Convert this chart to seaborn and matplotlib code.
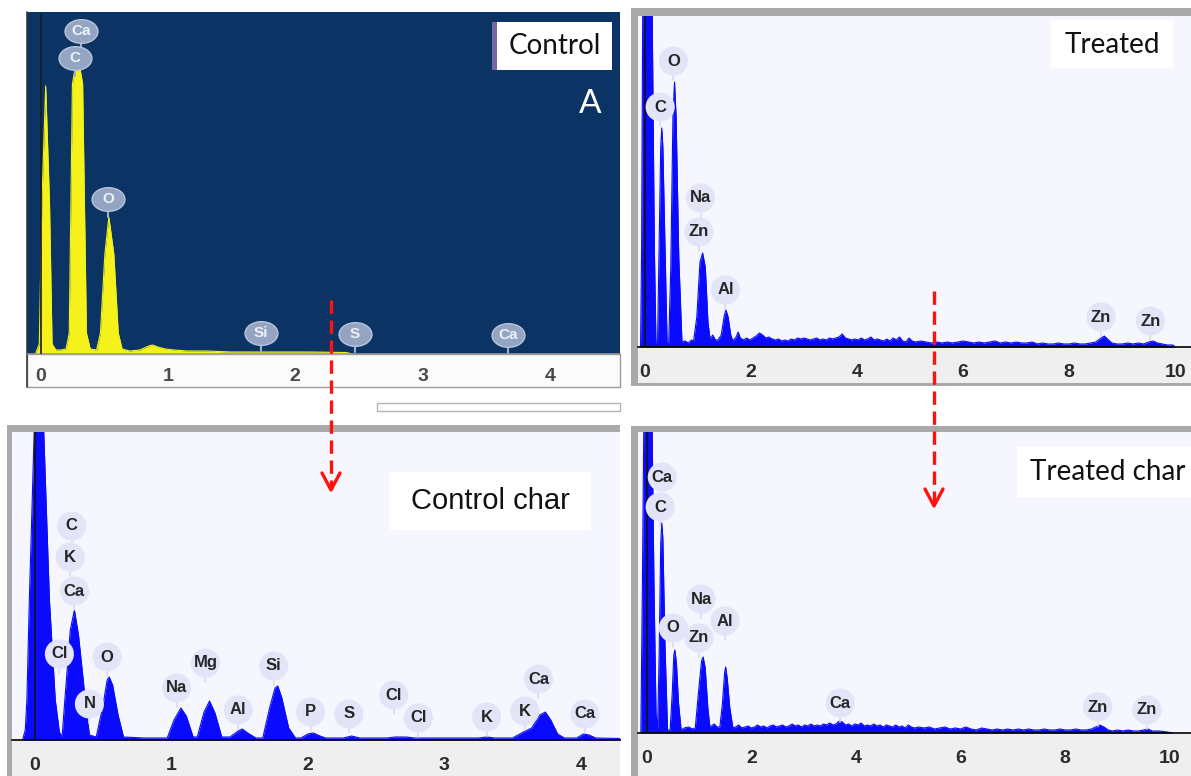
import matplotlib
matplotlib.use("Agg")
import matplotlib.pyplot as plt
import matplotlib.ticker as mticker
from matplotlib.patches import Rectangle
from matplotlib.path import Path
import seaborn as sns

sns.set_theme(style="white")
plt.rcParams['font.family'] = ['Liberation Sans', 'DejaVu Sans']

W, H = 1191, 776

# ------------------------------------------------------------------ data
# Panel A : Control (energy keV, counts in relative units)
energy_A = [-0.04, -0.01, 0.01, 0.04, 0.07, 0.09, 0.12, 0.16, 0.20, 0.225, 0.25, 0.29,
            0.33, 0.36, 0.39, 0.44, 0.47, 0.505, 0.536, 0.575, 0.61, 0.64, 0.70, 0.78,
            0.85, 0.88, 0.92, 0.98, 1.05, 1.15, 1.30, 1.50, 1.80, 2.10, 2.40, 2.45]
counts_A = [0, 10, 150, 268, 150, 10, 4, 4, 5, 21, 270, 300,
            270, 21, 5, 4, 21, 100, 137, 100, 21, 5, 3, 4,
            8, 9, 7, 5, 4, 3, 3, 2, 2, 2, 1.5, 0]

# Panel B : Treated
energy_B = [-0.08, -0.06, -0.04, 0.00, 0.08, 0.14, 0.18, 0.21, 0.24, 0.27, 0.30, 0.32, 0.34,
            0.38, 0.42, 0.45, 0.49, 0.53, 0.56, 0.59, 0.64, 0.70, 0.76, 0.82, 0.88, 0.92,
            0.98, 1.04, 1.09, 1.14, 1.19, 1.23, 1.28, 1.33, 1.38, 1.44, 1.50, 1.53, 1.57,
            1.62, 1.66, 1.72, 1.76, 1.80, 1.86, 1.92, 1.98, 2.04, 2.10, 2.16, 2.22, 2.28,
            2.34, 2.40, 2.46, 2.52, 2.58, 2.64, 2.70, 2.76, 2.82, 2.88, 2.94, 3.00, 3.06,
            3.12, 3.18, 3.24, 3.30, 3.36, 3.42, 3.48, 3.54, 3.60, 3.66, 3.72, 3.78, 3.84,
            3.90, 3.96, 4.02, 4.08, 4.14, 4.20, 4.26, 4.32, 4.38, 4.44, 4.50, 4.56, 4.62,
            4.68, 4.74, 4.80, 4.86, 4.92, 4.98, 5.04, 5.10, 5.20, 5.30, 5.40, 5.50, 5.60,
            5.70, 5.80, 5.90, 6.00, 6.10, 6.20, 6.30, 6.40, 6.50, 6.60, 6.70, 6.80, 6.90,
            7.00, 7.10, 7.20, 7.30, 7.40, 7.50, 7.60, 7.70, 7.80, 7.90, 8.00, 8.10, 8.20,
            8.30, 8.40, 8.50, 8.60, 8.66, 8.72, 8.80, 8.90, 9.00, 9.10, 9.20, 9.30, 9.40,
            9.50, 9.58, 9.66, 9.75, 9.85, 9.95, 10.0]
counts_B = [0, 100, 330, 420, 420, 330, 100, 5, 5, 100, 200, 219, 200,
            100, 5, 3, 80, 230, 265, 230, 90, 5, 6, 4, 7, 6,
            30, 85, 94, 80, 25, 8, 12, 7, 7, 12, 32, 37, 30,
            12, 6, 10, 15, 9, 7, 9, 7, 9, 11, 14, 12, 9,
            10, 8, 7, 8, 6, 7, 6, 8, 7, 9, 8, 9, 8,
            7, 8, 9, 7, 8, 7, 9, 8, 9, 10, 13, 9, 8,
            7, 8, 7, 9, 7, 8, 10, 7, 8, 7, 6, 8, 6,
            9, 7, 10, 6, 5, 9, 6, 5, 6, 5, 4, 5, 4,
            5, 4, 5, 6, 5, 4, 5, 4, 5, 6, 4, 5, 4,
            5, 4, 4, 5, 3, 4, 3, 3, 4, 3, 3, 4, 3,
            3, 4, 5, 9, 11, 8, 4, 3, 3, 4, 3, 4, 3,
            5, 6, 4, 3, 2, 2, 0]

# Panel C : Control char
energy_C = [-0.09, -0.07, -0.058, -0.04, 0.00, 0.06, 0.107, 0.15, 0.18, 0.20, 0.22, 0.26,
            0.29, 0.32, 0.37, 0.40, 0.45, 0.50, 0.53, 0.545, 0.57, 0.61, 0.65, 0.80, 0.97,
            1.02, 1.07, 1.11, 1.16, 1.19, 1.24, 1.28, 1.32, 1.37, 1.43, 1.49, 1.52, 1.56,
            1.62, 1.67, 1.72, 1.76, 1.78, 1.81, 1.86, 1.91, 1.95, 2.00, 2.04, 2.09, 2.13,
            2.26, 2.32, 2.38, 2.58, 2.64, 2.72, 2.78, 3.25, 3.31, 3.37, 3.50, 3.58, 3.64,
            3.70, 3.74, 3.78, 3.83, 3.88, 3.97, 4.02, 4.06, 4.11, 4.29]
counts_C = [0, 10, 40, 140, 330, 330, 140, 40, 8, 3, 40, 110,
            130, 105, 40, 5, 3, 35, 60, 63, 55, 25, 3, 2, 2,
            20, 32, 24, 3, 3, 28, 39, 27, 3, 3, 9, 11, 7,
            2, 2, 32, 52, 54, 42, 12, 2, 2, 6, 7, 4, 2,
            2, 4, 2, 2, 3, 3, 2, 2, 3, 2, 2, 8, 12,
            25, 28, 20, 6, 2, 2, 6, 5, 2, 1.5]

# Panel D : Treated char
energy_D = [-0.11, -0.08, -0.05, 0.10, 0.14, 0.18, 0.21, 0.24, 0.27, 0.29, 0.31, 0.35,
            0.40, 0.45, 0.49, 0.52, 0.54, 0.57, 0.61, 0.66, 0.72, 0.80, 0.88, 0.93, 0.99,
            1.05, 1.08, 1.12, 1.17, 1.21, 1.29, 1.35, 1.40, 1.45, 1.49, 1.51, 1.54, 1.59,
            1.65, 1.70, 1.76, 1.82, 1.88, 1.94, 2.00, 2.06, 2.12, 2.18, 2.24, 2.30, 2.36,
            2.42, 2.48, 2.54, 2.60, 2.66, 2.72, 2.78, 2.84, 2.90, 2.96, 3.02, 3.08, 3.14,
            3.20, 3.26, 3.32, 3.38, 3.44, 3.50, 3.56, 3.62, 3.68, 3.74, 3.80, 3.86, 3.92,
            3.98, 4.04, 4.10, 4.16, 4.22, 4.28, 4.34, 4.40, 4.46, 4.52, 4.58, 4.64, 4.70,
            4.76, 4.82, 4.88, 4.94, 5.00, 5.06, 5.12, 5.20, 5.30, 5.40, 5.50, 5.60, 5.70,
            5.80, 5.90, 6.00, 6.10, 6.20, 6.30, 6.40, 6.50, 6.60, 6.70, 6.80, 6.90, 7.00,
            7.10, 7.20, 7.30, 7.40, 7.50, 7.60, 7.70, 7.80, 7.90, 8.00, 8.10, 8.20, 8.30,
            8.40, 8.50, 8.58, 8.66, 8.74, 8.82, 8.90, 9.00, 9.10, 9.20, 9.30, 9.40, 9.50,
            9.58, 9.66, 9.80, 9.95, 10.05]
counts_D = [0, 150, 330, 330, 150, 20, 3, 80, 190, 210, 195, 90,
            3, 3, 40, 78, 83, 70, 30, 3, 5, 6, 4, 5, 40,
            72, 76, 65, 25, 6, 9, 6, 6, 30, 60, 66, 55, 25,
            5, 6, 8, 5, 6, 7, 5, 6, 8, 6, 7, 5, 7,
            8, 6, 7, 8, 6, 7, 9, 7, 8, 6, 8, 7, 9,
            7, 8, 7, 9, 8, 10, 8, 9, 12, 11, 8, 9, 7,
            9, 8, 10, 7, 8, 7, 9, 7, 8, 6, 8, 7, 6,
            8, 6, 7, 5, 8, 6, 5, 6, 5, 6, 4, 5, 6,
            4, 5, 4, 6, 4, 3, 5, 4, 3, 4, 3, 4, 3,
            4, 3, 4, 3, 3, 4, 3, 3, 4, 3, 3, 4, 3,
            3, 4, 6, 8, 6, 3, 2, 3, 2, 3, 2, 2, 3,
            4, 2, 2, 1, 0]

# element labels (name, line energy keV, badge height)
labels_A = ["Ca", "C", "O", "Si", "S", "Ca"]
label_e_A = [0.32, 0.27, 0.53, 1.73, 2.47, 3.67]
label_h_A = [323, 296, 155, 21, 20, 19]

labels_B = ["O", "C", "Na", "Zn", "Al", "Zn", "Zn"]
label_e_B = [0.54, 0.29, 1.05, 1.02, 1.52, 8.60, 9.53]
label_h_B = [286, 240, 149, 115, 57, 30, 26]

labels_C = ["C", "K", "Ca", "Cl", "O", "N", "Na", "Mg", "Al", "Si", "P", "S",
            "Cl", "Cl", "K", "K", "Ca", "Ca"]
label_e_C = [0.27, 0.26, 0.29, 0.18, 0.53, 0.40, 1.04, 1.25, 1.49, 1.75, 2.02, 2.30,
             2.63, 2.81, 3.31, 3.59, 3.69, 4.03]
label_h_C = [214, 183, 149, 86, 83, 36, 52, 77, 30, 74, 28, 26,
             45, 22, 23, 29, 61, 26]

labels_D = ["Ca", "C", "Na", "Al", "O", "Zn", "Ca", "Zn", "Zn"]
label_e_D = [0.30, 0.26, 1.04, 1.50, 0.51, 1.00, 3.70, 8.62, 9.56]
label_h_D = [256, 226, 134, 112, 105, 95, 30, 26, 23]

ticks_AC = [0, 1, 2, 3, 4]
tick_labels_AC = ["0", "1", "2", "3", "4"]
ticks_BD = [0, 1, 2, 3, 4, 5, 6, 7, 8, 9, 10]
tick_labels_BD = ["0", "", "2", "", "4", "", "6", "", "8", "", "10"]

titles = ["Control", "Treated", "Control char", "Treated char"]

# ------------------------------------------------------------------ figure
fig = plt.figure(figsize=(W / 100, H / 100), dpi=100)
fig.patch.set_facecolor("white")


def frect(x0, y0, x1, y1):
    return [x0 / W, 1 - y1 / H, (x1 - x0) / W, (y1 - y0) / H]


bg = fig.add_axes([0, 0, 1, 1], zorder=0)
bg.set_xlim(0, W)
bg.set_ylim(H, 0)
bg.axis("off")


def box(ax, x0, y0, x1, y1, fc, ec="none", lw=0.0, z=1):
    ax.add_patch(Rectangle((x0, y0), x1 - x0, y1 - y0, fc=fc, ec=ec, lw=lw, zorder=z))


# panel frames / tick strips
box(bg, 27, 12, 620, 354, "#0b3465")
box(bg, 27, 354, 620, 387, "#fbfbfb", ec="#9c9c9c", lw=1.0)
bg.plot([27, 27], [12, 387], color="#3a3a3a", lw=1.2, zorder=3)
box(bg, 631, 8, 1191, 386, "#a9a9a9")
box(bg, 638, 347, 1191, 383, "#efefef")
box(bg, 7, 425, 620, 776, "#a9a9a9")
box(bg, 12, 740, 620, 776, "#efefef")
box(bg, 631, 426, 1191, 776, "#a9a9a9")
box(bg, 638, 733, 1191, 776, "#efefef")
box(bg, 377, 403, 620, 411, "white", ec="#b5b5b5", lw=1.0)

SPEC_BG = "#f6f7fe"

_circ = Path.unit_circle()
ELLIPSE = Path(_circ.vertices * [1.0, 0.72], _circ.codes)


def panel(px, zero_px, kev_px, e, c, color, face, ticks, ticklabels, minor,
          lab, lab_e, lab_h, dark=False):
    x0, y0, x1, y1 = px
    ax = fig.add_axes(frect(x0, y0, x1, y1), zorder=2)
    ax.set_facecolor(face)
    ax.fill_between(e, 0, c, color=color, lw=0, zorder=2)
    sns.lineplot(x=e, y=c, ax=ax, color=color, lw=0.8, estimator=None,
                 sort=False, legend=False, zorder=2)
    ax.axvline(0, color="#111111" if not dark else "#1a1a1a", lw=1.2, zorder=3)
    ax.set_xlim((x0 - zero_px) / kev_px, (x1 - zero_px) / kev_px)
    ax.set_ylim(0, y1 - y0)
    for s in ["top", "left", "right"]:
        ax.spines[s].set_visible(False)
    ax.spines["bottom"].set_color("#9a9a9a" if dark else "black")
    ax.spines["bottom"].set_linewidth(1.2)
    ax.set_yticks([])
    ax.set_xticks(ticks)
    ax.set_xticklabels(ticklabels)
    ax.xaxis.set_minor_locator(mticker.MultipleLocator(minor))
    ax.tick_params(axis="x", which="major", direction="out", length=5, width=1.4,
                   color="black", pad=5 if dark else 7, labelsize=14,
                   labelcolor="#4a4a4a" if dark else "#2b2b2b")
    ax.tick_params(axis="x", which="minor", direction="out", length=3, width=1.2,
                   color="black")
    for t in ax.get_xticklabels():
        t.set_fontweight("bold")
    ax.set_xlabel("")
    ax.set_ylabel("")
    ax.grid(False)
    # element badges
    for name, le, lh in zip(lab, lab_e, lab_h):
        if dark:
            ax.plot([le, le], [max(lh - 18, 0), lh], color="#9fb0cc", lw=1.5, zorder=4)
            ax.scatter([le], [lh], s=560, marker=ELLIPSE, color="#94a5c4",
                       edgecolors="#b9c4da", linewidths=1.0, zorder=5)
            ax.text(le, lh, name, ha="center", va="center", fontsize=11,
                    fontweight="bold", color="#eef1f8", zorder=6)
        else:
            ax.plot([le, le], [max(lh - 19, 0), lh], color="#d9dcf4", lw=1.2, zorder=4)
            ax.scatter([le], [lh], s=440, color="#e2e4f7", edgecolors="none",
                       zorder=5)
            ax.text(le, lh, name, ha="center", va="center", fontsize=12,
                    fontweight="bold", color="#262626", zorder=6)
    return ax


axA = panel((28, 13, 620, 354), 40.6, 127.3, energy_A, counts_A, "#f4f21a", "#0b3465",
            ticks_AC, tick_labels_AC, 0.1, labels_A, label_e_A, label_h_A, dark=True)
axB = panel((638, 16, 1191, 347), 644.8, 53.06, energy_B, counts_B, "#0a0aff", SPEC_BG,
            ticks_BD, tick_labels_BD, 0.2, labels_B, label_e_B, label_h_B)
axC = panel((12, 432, 620, 740), 34.8, 136.5, energy_C, counts_C, "#0a0aff", SPEC_BG,
            ticks_AC, tick_labels_AC, 0.1, labels_C, label_e_C, label_h_C)
axD = panel((638, 432, 1191, 733), 646.6, 52.33, energy_D, counts_D, "#0a0aff", SPEC_BG,
            ticks_BD, tick_labels_BD, 0.2, labels_D, label_e_D, label_h_D)

# ------------------------------------------------------------------ overlay
ov = fig.add_axes([0, 0, 1, 1], zorder=10)
ov.set_xlim(0, W)
ov.set_ylim(H, 0)
ov.axis("off")
ov.patch.set_alpha(0)

# title boxes
box(ov, 492, 22, 498, 70, "#7468a6", z=2)
box(ov, 497, 22, 612, 70, "white", z=2)
ov.text(555, 46, titles[0], ha="center", va="center", fontsize=20, family="Lato",
        color="#111111", zorder=3)
ov.text(590, 104, "A", ha="center", va="center", fontsize=24, family="Lato",
        color="white", zorder=3)
box(ov, 1051, 20, 1173, 68, "white", z=2)
ov.text(1112, 45, titles[1], ha="center", va="center", fontsize=20, family="Lato",
        color="#111111", zorder=3)
box(ov, 390, 472, 591, 530, "white", z=2)
ov.text(490, 501, titles[2], ha="center", va="center", fontsize=21,
        family="Liberation Sans", color="#111111", zorder=3)
box(ov, 1017, 447, 1191, 497, "white", z=2)
ov.text(1108, 472, titles[3], ha="center", va="center", fontsize=20, family="Lato",
        color="#111111", zorder=3)

# red dashed arrows
for ax_x, y_start, y_tip in [(331, 300, 490), (934, 291, 506)]:
    ov.plot([ax_x, ax_x], [y_start, y_tip - 3], color="#ff1111", lw=2.4,
            ls=(0, (4, 2)), solid_capstyle="butt", zorder=4)
    ov.plot([ax_x - 9, ax_x, ax_x + 9], [y_tip - 17, y_tip, y_tip - 17],
            color="#ff1111", lw=2.4, zorder=4)

fig.savefig("out.png", dpi=100, facecolor="white")
